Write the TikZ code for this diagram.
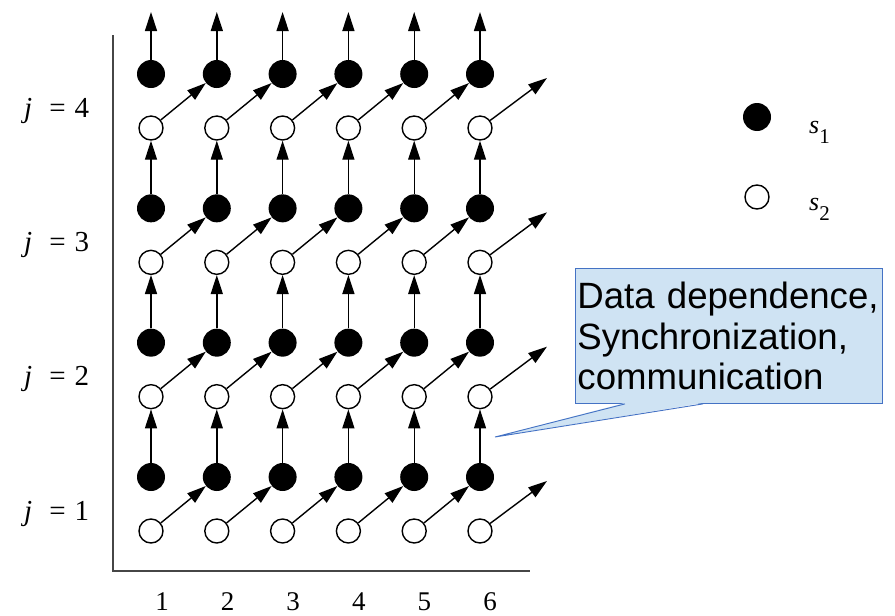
\documentclass[tikz,border=0pt]{standalone}
\usepackage{fontspec}
\setmainfont{Liberation Serif}
\newfontfamily\notefont{Liberation Sans}
\usetikzlibrary{arrows.meta}
\definecolor{notefill}{RGB}{207,227,243}
\definecolor{noteline}{RGB}{68,114,196}
\definecolor{axisgray}{RGB}{70,70,70}
\begin{document}
\begin{tikzpicture}[x=1pt,y=-1pt,
  soliddot/.style={circle,fill=black,inner sep=0pt,minimum size=28pt},
  hollowdot/.style={circle,draw=black,line width=1.4pt,fill=white,inner sep=0pt,minimum size=24pt},
  dep/.style={line width=1.4pt,-{Triangle[length=19pt,width=12pt]}},
  axisline/.style={draw=axisgray,line width=2.2pt},
  rowlabel/.style={anchor=base west,inner sep=0pt,font=\fontsize{29}{29}\selectfont},
  collabel/.style={anchor=base,inner sep=0pt,font=\fontsize{27}{27}\selectfont},
  legendlabel/.style={anchor=base west,inner sep=0pt,font=\fontsize{26}{26}\selectfont},
  notebox/.style={draw=noteline,fill=notefill,line width=0.9pt,anchor=north west,
    minimum width=307pt,minimum height=135pt,text width=303pt,inner xsep=2pt,inner ysep=0pt,
    align=left,font=\notefont\fontsize{36.6}{40.5}\selectfont}]
\useasboundingbox (0,0) rectangle (895,616);

% axes
\coordinate (axtop) at (113,35);
\coordinate (origin) at (113,571);
\coordinate (axright) at (530,571);
\draw[axisline] (axtop) -- (origin) -- (axright);

% iteration space: s1 (solid) above s2 (hollow) for each (i,j)
\foreach \k in {1,...,6}{
  \foreach \j in {1,...,4}{
    \pgfmathsetmacro{\xx}{151+65.8*(\k-1)}
    \pgfmathsetmacro{\yo}{531-134.33*(\j-1)}
    \pgfmathsetmacro{\yb}{\yo-54}
    \node[hollowdot] (o-\k-\j) at (\xx,\yo) {};
    \node[soliddot] (b-\k-\j) at (\xx,\yb) {};
    \coordinate (f-\j) at (547,\yb+4);
  }
  \pgfmathsetmacro{\xx}{151+65.8*(\k-1)}
  \coordinate (t-\k) at (\xx,12);
}

% dependences along j: s1(i,j) -> s2(i,j+1)
\foreach \k in {1,...,6}{
  \foreach \j [evaluate=\j as \jn using int(\j+1)] in {1,2,3}{
    \draw[dep] (b-\k-\j) -- (o-\k-\jn);
  }
  \draw[dep] (b-\k-4) -- (t-\k);
}

% dependences along i: s2(i,j) -> s1(i+1,j)
\foreach \j in {1,...,4}{
  \foreach \k [evaluate=\k as \kn using int(\k+1)] in {1,...,5}{
    \draw[dep] (o-\k-\j) -- (b-\kn-\j);
  }
  \draw[dep] (o-6-\j) -- (f-\j);
}

% row labels
\node[rowlabel] (j1) at (24,520) {\textit{j}\hspace{17pt}=\hspace{9pt}1};
\node[rowlabel] (j2) at (24,385.7) {\textit{j}\hspace{17pt}=\hspace{9pt}2};
\node[rowlabel] (j3) at (24,251.3) {\textit{j}\hspace{17pt}=\hspace{9pt}3};
\node[rowlabel] (j4) at (24,117) {\textit{j}\hspace{17pt}=\hspace{9pt}4};

% column labels
\foreach \k in {1,...,6}{
  \pgfmathsetmacro{\xx}{162+65.6*(\k-1)}
  \node[collabel] (c-\k) at (\xx,610) {\k};
}

% legend
\node[soliddot] (leg1) at (757,117) {};
\node[hollowdot] (leg2) at (757,197) {};
\node[legendlabel] (leg1t) at (809,133) {\textit{s}\raisebox{-10pt}{\fontsize{21}{21}\selectfont 1}};
\node[legendlabel] (leg2t) at (809,210) {\textit{s}\raisebox{-10pt}{\fontsize{21}{21}\selectfont 2}};

% callout
\node[notebox] (note) at (575,268) {Data dependence,\\Synchronization,\\communication};
\coordinate (tip) at (495,437);
\fill[notefill] ([xshift=50pt,yshift=1pt]note.south west) -- (tip) -- ([xshift=128pt,yshift=1pt]note.south west) -- cycle;
\draw[noteline,line width=0.9pt] ([xshift=50pt]note.south west) -- (tip) -- ([xshift=128pt]note.south west);
\end{tikzpicture}
\end{document}
